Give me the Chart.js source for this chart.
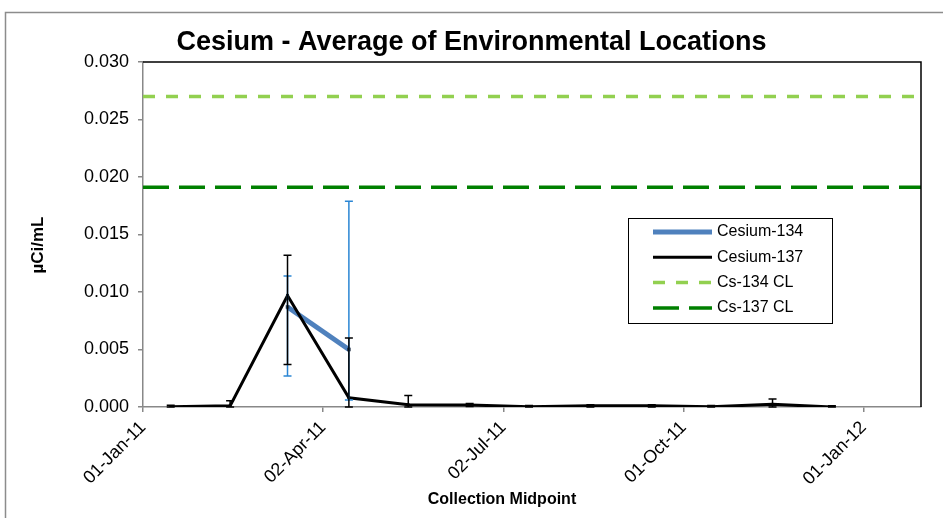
<!DOCTYPE html>
<html>
<head>
<meta charset="utf-8">
<script src="https://cdn.jsdelivr.net/npm/chart.js@4.4.0/dist/chart.umd.min.js"></script>
<style>
  html, body { margin: 0; padding: 0; background: #fff; }
  #grafico { display: block; }
</style>
</head>
<body>
<canvas id="grafico" width="943" height="518"></canvas>
<script>
// fechas de recoleccion (punto medio) y valores promedio en uCi/mL
const midpoints = ["2011-01-15", "2011-02-14", "2011-03-15", "2011-04-15", "2011-05-15", "2011-06-15",
  "2011-07-15", "2011-08-15", "2011-09-15", "2011-10-15", "2011-11-15", "2011-12-15"];
const cs137 = [0.00003, 0.0001, 0.0097, 0.0008, 0.0002, 0.00017, 0.00003, 0.0001, 0.0001, 0.00003, 0.00023, 0.0];
const cs137High = [0.00015, 0.00055, 0.0132, 0.0060, 0.0010, 0.0003, 0.00013, 0.0002, 0.0002, 0.00013, 0.0007, 0.0001];
const cs137Low = [0.0, 0.0, 0.0037, 0.0, 0.0, 0.00005, 0.0, 0.0, 0.0, 0.0, 0.0, 0.0];

const cs134Dates = ["2011-03-15", "2011-04-15"];
const cs134 = [0.0087, 0.0050];
const cs134High = [0.0114, 0.0179];
const cs134Low = [0.0027, 0.0006];

// limites de control
const cs134CL = 0.027;
const cs137CL = 0.0191;

const tickLabels = ["01-Jan-11", "02-Apr-11", "02-Jul-11", "01-Oct-11", "01-Jan-12"];
const tickDates = ["2011-01-01", "2011-04-02", "2011-07-02", "2011-10-01", "2011-12-31"];
const axisEnd = "2012-01-29";

const FONT = "'Liberation Sans', Arial, sans-serif";

function toDays(s) {
  const p = s.split("-").map(Number);
  return (Date.UTC(p[0], p[1] - 1, p[2]) - Date.UTC(2011, 0, 1)) / 86400000;
}

const tickDays = tickDates.map(toDays);
const xMax = toDays(axisEnd);

function pares(fechas, valores) {
  return fechas.map((f, i) => ({ x: toDays(f), y: valores[i] }));
}

// barras de error
const errorBars = {
  id: "errorBars",
  afterDatasetsDraw(chart) {
    const ctx = chart.ctx;
    const x = chart.scales.x, y = chart.scales.y;
    ctx.save();
    chart.data.datasets.forEach((ds) => {
      if (!ds.errHigh) return;
      ctx.strokeStyle = ds.errColor;
      ctx.lineWidth = 1.5;
      ds.data.forEach((p, i) => {
        const px = x.getPixelForValue(p.x);
        const top = y.getPixelForValue(ds.errHigh[i]);
        const bot = y.getPixelForValue(ds.errLow[i]);
        ctx.beginPath();
        ctx.moveTo(px, top); ctx.lineTo(px, bot);
        ctx.moveTo(px - 4, top); ctx.lineTo(px + 4, top);
        ctx.moveTo(px - 4, bot); ctx.lineTo(px + 4, bot);
        ctx.stroke();
      });
    });
    ctx.restore();
  }
};

// marco, titulos de ejes y leyenda al estilo Excel
const marco = {
  id: "marco",
  beforeDraw(chart) {
    const ctx = chart.ctx;
    ctx.save();
    ctx.fillStyle = "#fff";
    ctx.fillRect(0, 0, chart.width, chart.height);
    ctx.restore();
  },
  afterDraw(chart) {
    const ctx = chart.ctx;
    const a = chart.chartArea;
    ctx.save();
    // marco exterior
    ctx.strokeStyle = "#8c8c8c";
    ctx.lineWidth = 1.5;
    ctx.beginPath();
    ctx.moveTo(5.5, chart.height); ctx.lineTo(5.5, 12.5); ctx.lineTo(chart.width, 12.5);
    ctx.stroke();
    // borde del area de grafico
    ctx.strokeStyle = "#000";
    ctx.lineWidth = 1.5;
    ctx.beginPath();
    ctx.moveTo(a.left, a.top); ctx.lineTo(a.right, a.top); ctx.lineTo(a.right, a.bottom);
    ctx.stroke();

    // titulos de ejes
    ctx.fillStyle = "#000";
    ctx.textAlign = "center";
    ctx.textBaseline = "middle";
    ctx.font = "bold 16px " + FONT;
    ctx.fillText("Collection Midpoint", 502, 500);
    ctx.save();
    ctx.translate(38, 245);
    ctx.rotate(-Math.PI / 2);
    ctx.font = "bold 17px " + FONT;
    ctx.fillText("\u00b5Ci/mL", 0, 0);
    ctx.restore();

    // leyenda
    const lx = a.left + 485, ly = a.top + 156, lw = 204, lh = 105;
    ctx.fillStyle = "#fff";
    ctx.fillRect(lx, ly, lw, lh);
    ctx.strokeStyle = "#000";
    ctx.lineWidth = 1;
    ctx.strokeRect(lx + 0.5, ly + 0.5, lw, lh);
    ctx.font = "16px " + FONT;
    ctx.textAlign = "left";
    chart.data.datasets.forEach((ds, i) => {
      const cy = ly + 14 + i * 25.3;
      ctx.strokeStyle = ds.borderColor;
      ctx.lineWidth = ds.borderWidth;
      ctx.setLineDash(ds.borderDash || []);
      ctx.lineCap = "butt";
      ctx.beginPath();
      ctx.moveTo(lx + 25, cy); ctx.lineTo(lx + 84, cy);
      ctx.stroke();
      ctx.setLineDash([]);
      ctx.fillStyle = "#000";
      ctx.fillText(ds.label, lx + 89, cy);
    });
    ctx.restore();
  }
};

document.addEventListener("DOMContentLoaded", function () {
  const ctx = document.getElementById("grafico").getContext("2d");

  new Chart(ctx, {
    type: "line",
    data: {
      datasets: [
        {
          label: "Cesium-134",
          data: pares(cs134Dates, cs134),
          errHigh: cs134High,
          errLow: cs134Low,
          errColor: "#2B86D4",
          borderColor: "#4F81BD",
          backgroundColor: "#1f2f45",
          borderWidth: 5,
          pointStyle: "rect",
          pointRadius: 2.5,
          pointBorderWidth: 0,
          order: 1,
        },
        {
          label: "Cesium-137",
          data: pares(midpoints, cs137),
          errHigh: cs137High,
          errLow: cs137Low,
          errColor: "#000",
          borderColor: "#000",
          backgroundColor: "#000",
          borderWidth: 3,
          pointStyle: "rect",
          pointRadius: 2,
          pointBorderWidth: 0,
          order: 0,
        },
        {
          label: "Cs-134 CL",
          data: [{ x: 0, y: cs134CL }, { x: xMax, y: cs134CL }],
          borderColor: "#92D050",
          borderWidth: 3.5,
          borderDash: [12, 11],
          pointRadius: 0,
          order: 2,
        },
        {
          label: "Cs-137 CL",
          data: [{ x: 0, y: cs137CL }, { x: xMax, y: cs137CL }],
          borderColor: "#008000",
          borderWidth: 3.5,
          borderDash: [26, 10],
          pointRadius: 0,
          order: 3,
        },
      ],
    },
    options: {
      responsive: false,
      animation: false,
      devicePixelRatio: 1,
      layout: { padding: { left: 22, right: 22, top: 0, bottom: 0 } },
      elements: { line: { tension: 0, fill: false } },
      plugins: {
        legend: { display: false },
        tooltip: { enabled: false },
        title: {
          display: true,
          text: "Cesium - Average of Environmental Locations",
          color: "#000",
          font: { family: FONT, size: 27, weight: "bold" },
          padding: { top: 26, bottom: 3.6 },
        },
      },
      scales: {
        x: {
          type: "linear",
          min: 0,
          max: xMax,
          afterBuildTicks: (s) => { s.ticks = tickDays.map((v) => ({ value: v })); },
          afterFit: (s) => { s.height = 111; },
          ticks: {
            autoSkip: false,
            minRotation: 45,
            maxRotation: 45,
            padding: 5,
            color: "#000",
            font: { family: FONT, size: 18 },
            callback: (v, i) => tickLabels[i],
          },
          grid: { drawOnChartArea: false, tickLength: 5, color: "#888", lineWidth: 1.5 },
          border: { color: "#888", width: 1.5 },
        },
        y: {
          min: 0,
          max: 0.03,
          afterFit: (s) => { s.width = 121; },
          ticks: {
            stepSize: 0.005,
            padding: 9,
            color: "#000",
            font: { family: FONT, size: 18 },
            callback: (v) => v.toFixed(3),
          },
          grid: { drawOnChartArea: false, tickLength: 5, color: "#888", lineWidth: 1.5 },
          border: { color: "#888", width: 1.5 },
        },
      },
    },
    plugins: [errorBars, marco],
  });
});
</script>
</body>
</html>
